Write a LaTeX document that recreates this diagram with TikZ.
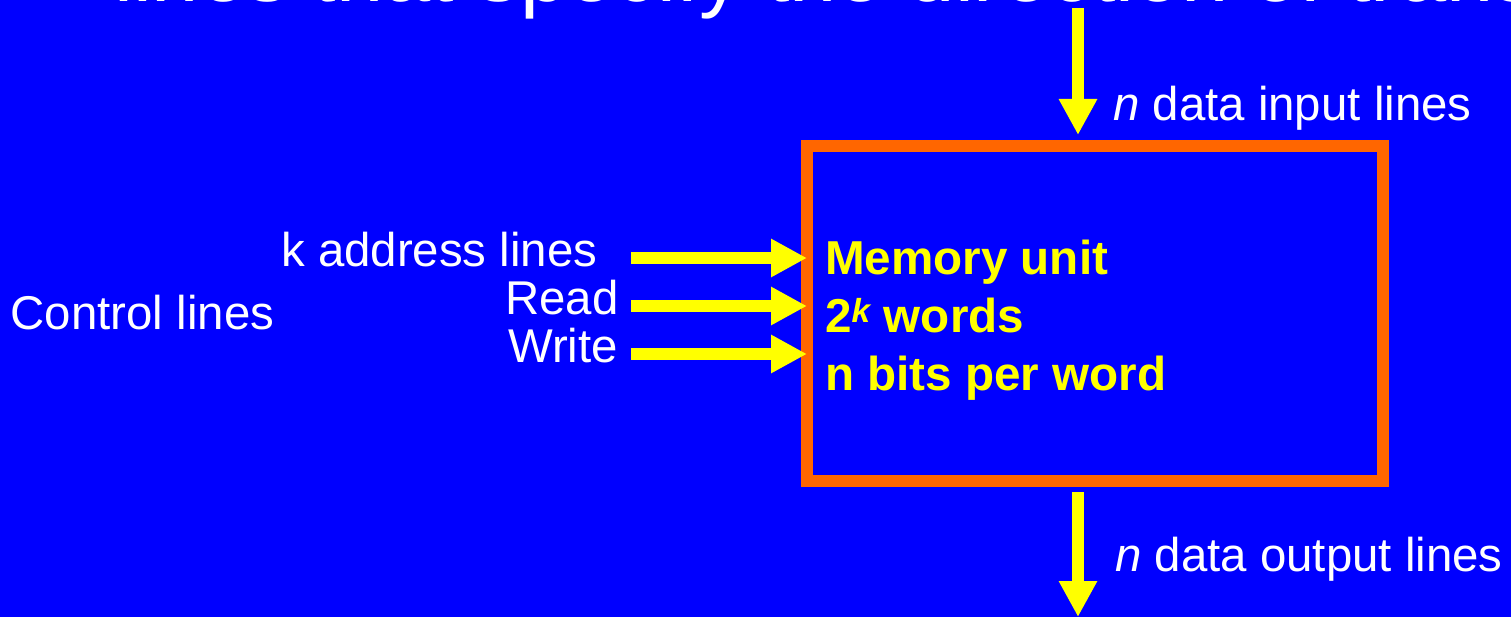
\documentclass[tikz,border=0pt]{standalone}
\usepackage{fontspec}
\setmainfont{Liberation Sans}
\usetikzlibrary{arrows.meta}
\definecolor{bg}{RGB}{0,0,255}
\definecolor{orng}{RGB}{255,102,0}
\definecolor{ylw}{RGB}{255,255,0}
\begin{document}
\begin{tikzpicture}[x=1pt,y=-1pt,
  txt/.style={inner sep=0pt, text=white, font=\fontsize{47.4}{57}\selectfont},
  btxt/.style={inner sep=0pt, text=ylw, font=\fontsize{47.6}{57}\selectfont\bfseries},
  yarrow/.style={draw=ylw, line width=12pt, -{Triangle[length=36pt,width=36pt]}},
  membox/.style={draw=orng, line width=12pt, inner sep=0pt, outer sep=0pt, minimum width=576pt, minimum height=335pt}]
\fill[bg] (0,0) rectangle (1511,617);
\useasboundingbox (0,0) rectangle (1511,617);
\clip (0,0) rectangle (1511,617);

\node[inner sep=0pt, text=white, font=\fontsize{85}{100}\selectfont, anchor=base west] (title) at (114,2) {lines that specify the direction of transfer};

\node[membox, anchor=north west] (mem) at (807,146) {};

\node[btxt, anchor=base west] (mem1) at (825,275) {Memory unit};
\node[btxt, anchor=base west] (mem2) at (825,332) {2\textsuperscript{\itshape k} words};
\node[btxt, anchor=base west] (mem3) at (825,390) {n bits per word};

\node[txt, anchor=base west] (addr) at (281,267) {k address lines};
\node[txt, anchor=base west] (read) at (505,314) {Read};
\node[txt, anchor=base west] (write) at (508,362) {Write};
\node[txt, anchor=base west] (ctrl) at (10.5,330) {Control lines};
\node[txt, anchor=base west] (din) at (1113,121) {\textit{n} data input lines};
\node[txt, anchor=base west] (dout) at (1115,571) {\textit{n} data output lines};

\coordinate (a1) at (631,258);
\coordinate (a2) at (631,306);
\coordinate (a3) at (631,354);
\coordinate (inTop) at (1078,8);
\coordinate (outTip) at (1078,617);

\draw[yarrow] (a1) -- (a1 -| mem.west);
\draw[yarrow] (a2) -- (a2 -| mem.west);
\draw[yarrow] (a3) -- (a3 -| mem.west);
\draw[yarrow, shorten >=11pt] (inTop) -- (inTop |- mem.north);
\draw[yarrow, shorten <=11pt] (outTip |- mem.south) -- (outTip);
\end{tikzpicture}
\end{document}
